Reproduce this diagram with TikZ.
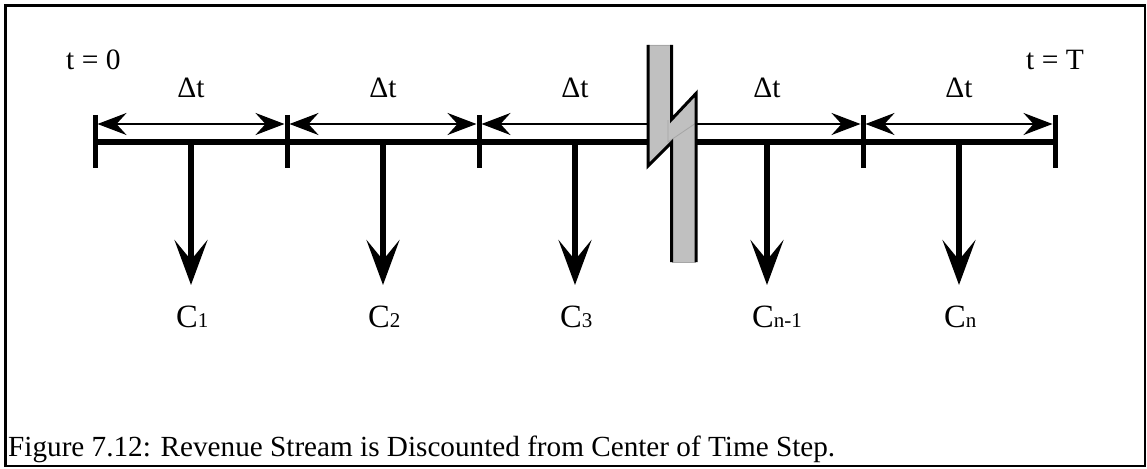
\documentclass[tikz,border=0pt]{standalone}
\usepackage{fontspec}
\setmainfont{Liberation Serif}
\usetikzlibrary{arrows.meta}
\definecolor{barg}{RGB}{192,192,192}
\newcommand{\clab}[1]{{\fontsize{32.5}{36}\selectfont C}{\fontsize{21}{24}\selectfont #1}}
\begin{document}
\begin{tikzpicture}[x=1pt,y=-1pt,
  lbl/.style={font=\fontsize{29.5}{34}\selectfont, inner sep=0pt},
  caplbl/.style={font=\fontsize{29.2}{34}\selectfont, inner sep=0pt},
  frame/.style={line width=2.6pt},
  mainline/.style={line width=5.6pt},
  tickline/.style={line width=5pt},
  dimline/.style={line width=2.4pt},
  dtip/.tip={Stealth[length=29pt,width=22pt,inset=10pt]},
  ctip/.tip={Stealth[length=45pt,width=33pt,inset=20pt]},
  flow/.style={line width=5.6pt,-ctip},
  baredge/.style={line width=3pt,line join=miter},
  barthin/.style={draw=gray!70,line width=0.8pt}]
\useasboundingbox (0,0) rectangle (1147,468);
\draw[frame] (5.5,5.5) rectangle (1145,466);

% tick positions
\foreach \x/\n in {95/t0,287/t1,479/t2,863/t4,1055/t5}{
  \coordinate (\n) at (\x,142);
  \coordinate (\n top) at (\x,115);
  \coordinate (\n bot) at (\x,168);
}
\draw[mainline] (t0) -- (t5);
\foreach \n in {t0,t1,t2,t4,t5}{ \draw[tickline] (\n top) -- (\n bot); }

% dimension line end points
\coordinate (d0r) at (97.5,124);
\coordinate (d1l) at (284.5,124);
\coordinate (d1r) at (289.5,124);
\coordinate (d2l) at (476.5,124);
\coordinate (d2r) at (481.5,124);
\coordinate (brkL) at (655,124);
\coordinate (brkR) at (690,124);
\coordinate (d4l) at (860.5,124);
\coordinate (d4r) at (865.5,124);
\coordinate (d5l) at (1052.5,124);
\draw[dimline,dtip-dtip] (d0r) -- (d1l);
\draw[dimline,dtip-dtip] (d1r) -- (d2l);
\draw[dimline,dtip-] (d2r) -- (brkL);
\draw[dimline,-dtip] (brkR) -- (d4l);
\draw[dimline,dtip-dtip] (d4r) -- (d5l);

% break bar
\fill[barg] (648,45) -- (671.5,45) -- (671.5,119.5) -- (696,93.5) -- (696,262)
  -- (671.5,262) -- (671.5,142.5) -- (648,166) -- cycle;
\draw[barthin] (648,45) -- (671.5,45);
\draw[barthin] (671.5,262) -- (696,262);
\draw[barthin] (668,120) -- (668,142) -- (696,123);
\draw[baredge] (671.5,45) -- (671.5,119.5) -- (696,93.5) -- (696,262);
\draw[baredge] (648,45) -- (648,166) -- (671.5,142.5) -- (671.5,262);

% cash flow arrows
\foreach \x/\n in {191/a1,383/a2,575/a3,767/a4,959/a5}{
  \coordinate (\n s) at (\x,142);
  \coordinate (\n e) at (\x,285);
  \draw[flow] (\n s) -- (\n e);
}

% labels
\node[lbl,anchor=base west] (tzero) at (66,70) {t = 0};
\node[lbl,anchor=base west] (tend) at (1026,70) {t = T};
\foreach \x/\n in {191/dt1,383/dt2,575/dt3,767/dt4,959/dt5}{
  \node[lbl,anchor=base] (\n) at (\x,98) {Δt};
}
\node[inner sep=0pt,anchor=base west] (c1) at (176,327) {\clab{1}};
\node[inner sep=0pt,anchor=base west] (c2) at (368,327) {\clab{2}};
\node[inner sep=0pt,anchor=base west] (c3) at (560,327) {\clab{3}};
\node[inner sep=0pt,anchor=base west] (c4) at (752,327) {\clab{n-1}};
\node[inner sep=0pt,anchor=base west] (c5) at (944,327) {\clab{n}};
\node[caplbl,anchor=base west] (cap) at (8,456) {Figure 7.12: Revenue Stream is Discounted from Center of Time Step.};
\end{tikzpicture}
\end{document}
